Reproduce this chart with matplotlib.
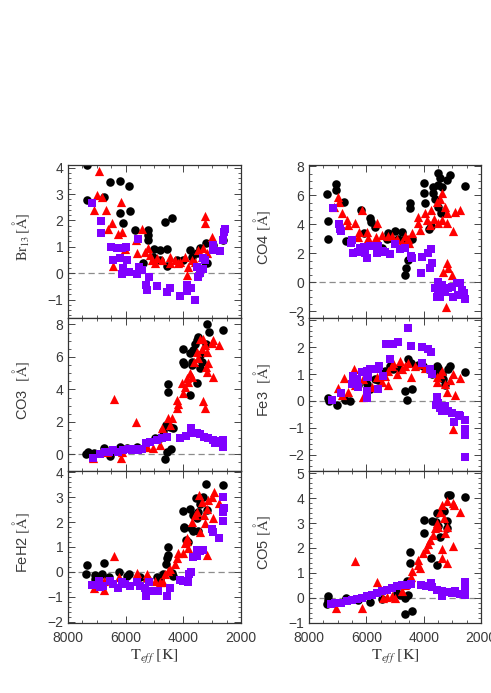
import matplotlib
matplotlib.use("Agg")
import matplotlib.pyplot as plt
from matplotlib.ticker import MultipleLocator

plt.rcParams['font.family'] = ['Liberation Sans', 'DejaVu Sans']
plt.rcParams['mathtext.fontset'] = 'stix'

# ---------------- data (Teff [K], equivalent width [A]) ----------------
# Br13
br_blk_T = [7350,7350,6740,6540,6200,5890,6200,5850,6100,5680,5240,5240,5240,4640,4400,5010,4810,4580,5040,4810,4580,4230,3770,3710,3540,3420,3210,3250,3480,3190,2610,2960,5390,4000]
br_blk_y = [4.1,2.78,2.88,3.44,3.5,3.31,2.29,2.34,1.91,1.63,1.63,1.44,1.25,1.94,2.09,0.9,0.88,0.9,0.63,0.5,0.28,0.5,0.88,0.63,0.75,0.94,1.15,0.44,-0.06,0.38,1.25,1.06,0.38,0.5]
br_red_T = [6930,6980,6830,7090,6680,6160,6490,6600,6260,6140,5450,5640,6020,6430,5620,5330,5210,5100,4930,4980,4750,4460,4170,4460,3940,3830,3890,3710,3600,3480,3360,3310,3250,3250,3020,3190,4120,4290,5160]
br_red_y = [3.88,2.96,2.88,2.38,2.4,2.69,1.91,1.69,1.5,1.56,1.69,1.25,0.9,0.28,0.75,0.81,0.94,0.5,0.56,0.38,0.5,0.38,0.38,0.63,0.63,0.25,-0.06,0.5,0.44,0.88,0.63,0.94,2.15,1.9,1.38,0.75,0.44,0.5,0.69]
br_pur_T = [7160,6870,6870,6520,6310,6140,5990,6430,6200,5970,6080,6140,5870,5580,5540,5450,5600,5180,5300,5250,4900,4460,4560,4120,3890,3890,3740,3600,3540,3420,3330,3480,3250,2960,2960,2730,2610,2590,2560,3310]
br_pur_y = [2.65,1.98,1.53,0.98,0.94,0.94,0.98,0.5,0.56,0.5,0.19,-0.03,0.03,1.29,0.25,0.13,-0.03,-0.13,-0.44,-0.63,-0.5,-0.56,-0.73,-0.85,-0.44,-0.69,-0.56,-1.03,0.25,0.0,0.15,-0.13,0.5,1.06,0.88,0.85,1.25,1.56,1.69,0.56]

# CO4
co4_blk_T = [7380,7060,7070,6780,7330,7330,6720,6200,6070,5870,5840,5700,5440,5290,5230,5000,5170,4770,4650,4530,4620,4560,4650,4480,4480,4420,4880,3980,3980,3950,3690,3690,3490,3430,3490,3370,3080,3200,3600,3490,3400,3740,3810,2560]
co4_blk_y = [6.09,6.78,6.41,5.56,4.23,3.03,2.85,4.99,3.38,4.46,4.18,3.84,2.41,2.97,3.43,3.56,3.1,3.49,2.97,2.8,1.03,1.54,0.51,5.45,5.15,2.99,3.03,6.87,6.14,5.45,6.14,6.6,7.52,7.17,6.71,6.6,7.4,7.06,5.79,5.22,4.76,3.89,3.72,6.64]
co4_red_T = [6980,6940,7120,6860,6690,6630,6400,6160,6260,6300,5990,5950,5640,5670,5440,5230,5090,4940,4770,4650,4510,4420,4560,4190,4190,4130,3950,3900,3780,3740,3630,3550,3430,3350,3260,3200,3370,3200,3490,2910,2730,2970,3200,3140,3310,3020,3230]
co4_red_y = [5.86,5.56,5.22,4.8,4.3,3.95,4.11,4.99,3.49,3.15,3.49,3.1,4.11,3.15,3.26,3.2,3.2,2.97,2.8,3.2,2.74,3.43,3.03,4.53,4.07,3.61,4.76,4.3,3.95,4.99,4.41,5.56,5.79,6.14,5.22,4.76,4.3,4.11,4.11,4.87,5.03,3.54,1.31,0.97,0.74,0.51,-1.68]
co4_pur_T = [7170,6940,6920,6880,6510,6540,6450,6220,6070,6280,5990,6050,5870,5620,5470,5580,5350,5170,5000,4830,4650,4440,4410,4090,4050,3860,3740,3780,3720,3510,3600,3490,3550,3350,3260,3140,3020,2970,2850,2730,2670,2580,2560,2790,3430]
co4_pur_y = [5.15,4.02,3.72,3.56,2.92,2.69,2.05,2.41,2.46,2.11,1.66,2.05,2.51,2.0,2.18,2.51,2.11,1.95,2.64,2.34,2.41,1.82,1.66,0.62,1.77,2.0,2.28,1.03,1.31,0.05,-0.41,-0.64,-0.99,-0.18,-0.64,-0.41,-0.3,-0.99,-0.07,-0.07,-0.53,-0.76,-1.17,-0.87,-1.03]

# CO3
co3_blk_T = [7380,7300,7090,6740,6540,6200,5970,5620,4980,4810,4690,4600,4460,4520,4520,4580,4430,4640,4350,4000,4020,3980,3770,3710,3650,3600,3540,3480,3420,3420,3360,3190,3100,3210,2610,3770,3540,3710]
co3_blk_y = [0.0,0.16,0.06,0.41,-0.08,0.47,0.41,0.47,0.98,0.98,1.44,1.8,1.7,4.31,3.86,0.16,0.31,-0.29,1.6,6.52,5.7,5.54,6.22,5.5,6.42,6.77,7.04,7.24,6.11,5.29,5.7,8.0,7.55,6.77,7.63,3.65,4.37,5.7]
co3_red_T = [7120,6390,6140,6160,5640,6660,5270,5040,4750,4810,4520,4410,4460,4230,4230,4170,4060,4000,3890,3940,3830,3770,3710,3620,3480,3420,3310,3360,3250,3190,3130,3190,3210,2960,3020,2750,2980,3320,3250,3540]
co3_red_y = [-0.2,3.41,0.16,-0.25,2.01,0.16,0.47,0.37,1.64,0.57,2.22,2.22,1.8,3.34,2.83,3.08,4.37,3.75,4.68,4.16,4.47,4.98,4.78,5.7,5.91,7.1,7.1,6.52,6.73,6.32,5.6,5.05,5.4,7.04,6.83,6.73,4.78,3.28,2.87,6.32]
co3_pur_T = [7150,6890,6570,6430,6260,6080,5870,5790,5560,5450,5300,5160,4930,4750,4580,4120,3910,3750,3710,3540,3420,3280,3130,2960,2900,2790,2610,2610,6720,5680]
co3_pur_y = [-0.2,0.0,0.16,0.27,0.16,0.27,0.33,0.27,0.27,0.33,0.68,0.78,0.88,0.98,1.09,1.03,1.15,1.6,1.29,1.29,1.23,1.09,1.03,0.88,0.68,0.82,0.88,0.47,0.12,0.33]

# Fe3
fe3_blk_T = [7350,7300,7040,6740,6570,6280,5990,5870,5700,5580,5350,5170,5060,4910,4650,4590,4400,4530,4440,4190,4010,3840,3720,3550,3490,3370,3310,3260,3140,3080,2560,3550]
fe3_blk_y = [0.1,0.0,-0.14,0.04,0.0,0.58,0.64,0.46,0.82,0.76,1.12,1.3,1.18,1.24,0.36,0.04,0.43,1.54,1.42,1.33,1.28,1.18,1.0,1.3,1.24,1.0,0.82,0.58,1.18,1.3,1.06,1.12]
fe3_red_T = [6980,6770,6860,6630,6420,6400,6100,6100,5810,5640,5470,5230,5230,5090,4940,4830,4740,4650,4440,4300,4130,3950,3550,3430,3370,3260,3200,3080,2970,2910,2730,2970,3550,5060,4560,5350]
fe3_red_y = [0.48,0.84,0.22,0.34,1.2,0.58,0.16,0.82,0.52,0.88,0.7,0.6,1.12,1.3,1.0,1.48,1.18,1.3,0.88,1.3,1.36,1.24,0.88,1.0,1.12,0.64,0.34,0.76,1.0,0.24,0.84,-1.05,0.7,1.42,1.42,0.94]
fe3_pur_T = [7190,6880,6510,6450,6340,6280,6160,5990,5990,5990,5990,5870,5930,5580,5560,5580,5410,5310,5060,4880,5170,4560,4440,4070,3840,3740,4070,3780,3720,3550,3490,3580,3430,3370,3260,3160,3020,2930,2770,2560,2560,2560,2560,2730]
fe3_pur_y = [0.04,0.31,0.64,0.94,0.82,0.52,1.06,1.12,0.88,0.36,0.12,1.18,0.88,1.18,1.3,0.43,0.94,2.12,2.12,2.2,1.54,2.72,2.05,2.02,1.93,1.81,1.42,1.18,1.0,0.16,-0.08,-0.14,-0.27,-0.39,-0.2,-0.39,-0.45,-0.77,-0.53,-0.69,-1.05,-1.25,-2.07,-0.57]

# FeH2
feh_blk_T = [7380,7330,7060,7060,6830,6740,6570,6220,5970,5870,5500,5250,4930,4810,4690,4600,4520,4520,4560,4410,4370,4000,3980,3980,3830,3770,3740,3650,3560,3540,3480,3420,3310,3230,3190,3650,2610,3910,3480]
feh_blk_y = [-0.09,0.26,-0.12,-0.29,-0.07,0.37,-0.2,0.0,-0.16,-0.09,-0.22,-0.29,-0.22,-0.29,-0.09,0.3,0.99,0.67,0.54,-0.03,-0.16,2.43,1.82,1.75,1.22,2.51,1.75,2.3,2.96,2.17,2.41,2.74,3.0,3.53,2.47,1.64,3.49,1.29,1.64]
feh_red_T = [7090,6740,6390,6220,6740,5620,5270,5250,4980,4810,4690,4640,4460,4290,4230,4170,4000,3940,3890,3890,3830,3710,3600,3540,3450,3360,3280,3190,3130,3020,2940,2980,2750,3190,3420,4520,3250]
feh_red_y = [-0.64,-0.72,0.63,-0.22,-0.36,-0.03,-0.22,-0.07,-0.36,-0.42,-0.42,-0.09,0.11,0.3,0.57,0.76,0.76,1.16,1.25,1.36,0.96,2.01,2.28,2.41,3.07,2.8,2.28,2.54,2.87,3.0,3.22,2.17,2.76,0.66,1.62,0.04,1.95]
feh_pur_T = [7180,6910,6890,6780,6540,6430,6260,6140,6020,5850,5620,5500,5330,5300,5180,5040,4890,4580,4460,4120,4000,3830,3790,3740,3650,3520,3420,3310,3540,3020,2960,2750,2640,2610,2610,2590]
feh_pur_y = [-0.51,-0.36,-0.62,-0.55,-0.36,-0.49,-0.64,-0.42,-0.49,-0.55,-0.42,-0.55,-0.64,-0.95,-0.42,-0.75,-0.75,-0.95,-0.64,-0.33,-0.38,-0.42,-0.09,0.01,0.59,0.63,0.83,0.89,0.89,1.71,1.59,1.36,2.04,2.41,3.0,2.57]

# CO5
co5_blk_T = [7380,7330,7350,6720,6280,5870,5440,4940,4650,4590,4560,4480,4480,4650,4400,4830,3980,3990,3740,3720,3550,3570,3430,3490,3280,3170,3200,3140,3080,2560,3550]
co5_blk_y = [-0.25,0.05,-0.08,-0.01,-0.08,-0.17,-0.04,0.19,-0.01,0.68,0.09,1.83,1.41,-0.64,-0.55,0.12,3.12,2.59,1.61,3.08,1.32,3.05,2.45,2.89,3.48,3.08,2.79,4.12,4.15,4.07,3.39]
co5_red_T = [7070,6400,6140,5640,5290,5000,5120,4770,4650,4530,4440,4400,4190,4190,4130,4010,3930,3860,3780,3660,3600,3550,3490,3430,3370,3280,3200,2970,2930,2730,3260,3200,3370,2970,3350,3200,5410]
co5_red_y = [-0.41,1.48,-0.41,0.65,0.01,-0.01,0.05,0.25,0.52,0.65,0.85,1.08,1.32,1.52,1.19,1.79,1.96,2.15,2.32,2.52,2.79,2.99,2.85,3.45,3.72,3.19,3.88,3.83,3.72,3.45,2.59,1.39,1.96,2.09,1.59,2.85,-0.01]
co5_pur_T = [7230,7090,6880,6690,6510,6340,6160,5990,5810,5640,5440,5290,5120,4940,4770,4590,4440,4090,3930,3740,3720,3550,3370,3370,3200,3020,2910,2730,2560,2560,2560]
co5_pur_y = [-0.25,-0.21,-0.21,-0.15,-0.08,-0.04,-0.01,0.05,0.12,0.19,0.25,0.32,0.39,0.45,0.52,0.49,0.55,0.49,0.45,0.59,0.41,0.32,0.05,0.25,0.23,0.19,0.25,0.15,0.65,0.32,0.09]

ylabels = [r'$\mathrm{Br}_{13}\,[\mathrm{\AA}]$', r'CO4 $[\mathrm{\AA}]$',
           r'CO3  $[\mathrm{\AA}]$', r'Fe3  $[\mathrm{\AA}]$',
           r'FeH2 $[\mathrm{\AA}]$', r'CO5 $[\mathrm{\AA}]$']
xlabel = r'$\mathrm{T}_{eff}\ [\mathrm{K}]$'
x_ticks = [8000, 6000, 4000, 2000]

panels = [
    (br_blk_T, br_blk_y, br_red_T, br_red_y, br_pur_T, br_pur_y),
    (co4_blk_T, co4_blk_y, co4_red_T, co4_red_y, co4_pur_T, co4_pur_y),
    (co3_blk_T, co3_blk_y, co3_red_T, co3_red_y, co3_pur_T, co3_pur_y),
    (fe3_blk_T, fe3_blk_y, fe3_red_T, fe3_red_y, fe3_pur_T, fe3_pur_y),
    (feh_blk_T, feh_blk_y, feh_red_T, feh_red_y, feh_pur_T, feh_pur_y),
    (co5_blk_T, co5_blk_y, co5_red_T, co5_red_y, co5_pur_T, co5_pur_y),
]
ylims = [(-1.7, 4.1), (-2.45, 8.1), (-1.03, 8.4), (-2.6, 3.08), (-2.05, 4.05), (-1.02, 5.1)]
ymaj = [1, 2, 2, 1, 1, 1]
ymin = [0.2, 0.5, 0.5, 0.2, 0.2, 0.2]

W, H = 491, 693
fig = plt.figure(figsize=(W / 100, H / 100), dpi=100)
col_x = [(68, 173), (309, 172)]
row_y = [(165, 318), (318, 471), (471, 623)]

tick_col = '#3a3a3a'
for i, data in enumerate(panels):
    r, c = divmod(i, 2)
    x0, w = col_x[c]
    yt, yb = row_y[r]
    ax = fig.add_axes([x0 / W, 1 - yb / H, w / W, (yb - yt) / H])
    bT, by, rT, ry, pT, py = data
    ax.axhline(0, color='#8c8c8c', lw=0.9, dashes=(5, 3), zorder=1)
    ax.scatter(bT, by, marker='o', s=38, color='black', linewidths=0, zorder=2)
    ax.scatter(rT, ry, marker='^', s=44, color='#ff0000', linewidths=0, zorder=3)
    ax.scatter(pT, py, marker='s', s=38, color='#8000ff', linewidths=0, zorder=4)
    ax.set_xlim(8000, 2000)
    ax.set_ylim(*ylims[i])
    ax.xaxis.set_major_locator(MultipleLocator(2000))
    ax.xaxis.set_minor_locator(MultipleLocator(500))
    ax.yaxis.set_major_locator(MultipleLocator(ymaj[i]))
    ax.yaxis.set_minor_locator(MultipleLocator(ymin[i]))
    ax.tick_params(which='both', direction='in', top=True, right=True,
                   colors='#444444', labelcolor=tick_col, labelsize=10)
    ax.tick_params(which='major', length=5, width=0.7)
    ax.tick_params(which='minor', length=2.5, width=0.6)
    ax.tick_params(axis='x', which='major', pad=6)
    for sp in ax.spines.values():
        sp.set_color('#333333')
        sp.set_linewidth(0.9)
    ax.set_ylabel(ylabels[i], fontsize=10.5, color=tick_col)
    ax.yaxis.set_label_coords(-0.21, 0.53)
    if r < 2:
        ax.tick_params(labelbottom=False)
    else:
        ax.set_xticks(x_ticks)
        ax.set_xlabel(xlabel, fontsize=11.5, color=tick_col, labelpad=2)

fig.savefig('out.png', dpi=100)
